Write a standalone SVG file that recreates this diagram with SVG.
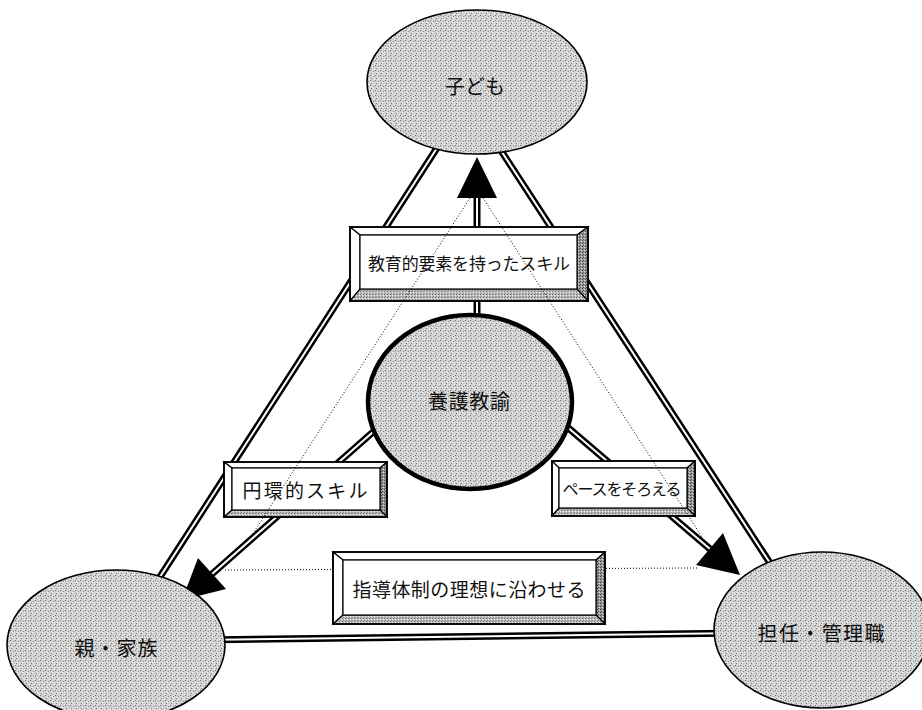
<svg xmlns="http://www.w3.org/2000/svg" width="922" height="710" viewBox="0 0 922 710">
  <defs>
    <pattern id="stip" width="5" height="5" patternUnits="userSpaceOnUse">
      <rect width="5" height="5" fill="#d2d2d2"/>
      <rect x="0" y="0" width="1" height="1" fill="#6e6e6e"/>
      <rect x="3" y="1" width="1" height="1" fill="#8c8c8c"/>
      <rect x="1" y="3" width="1" height="1" fill="#7a7a7a"/>
      <rect x="4" y="4" width="1" height="1" fill="#f4f4f4"/>
      <rect x="2" y="2" width="1" height="1" fill="#ffffff"/>
    </pattern>
    <pattern id="dark" width="3" height="3" patternUnits="userSpaceOnUse">
      <rect width="3" height="3" fill="#9a9a9a"/>
      <rect x="0" y="0" width="1" height="1" fill="#404040"/>
      <rect x="2" y="1" width="1" height="1" fill="#dcdcdc"/>
      <rect x="1" y="2" width="1" height="1" fill="#555"/>
    </pattern>
    <pattern id="light" width="3" height="3" patternUnits="userSpaceOnUse">
      <rect width="3" height="3" fill="#bdbdbd"/>
      <rect x="0" y="0" width="1" height="1" fill="#6a6a6a"/>
      <rect x="2" y="1" width="1" height="1" fill="#f0f0f0"/>
      <rect x="1" y="2" width="1" height="1" fill="#888"/>
    </pattern>
  </defs>
  <style>
    .dl-b { fill: none; stroke: #000; stroke-width: 7; }
    .dl-w { fill: none; stroke: #fff; stroke-width: 2; }
    .head { fill: #000; stroke: none; }
    .dot { fill: none; stroke: #000; stroke-width: 1; stroke-dasharray: 1 2; }
    .ell { fill: url(#stip); stroke: #000; stroke-width: 1.6; }
    .ell-c { fill: url(#stip); stroke: #000; stroke-width: 4.5; }
    .bv-l { fill: #fff; stroke: #000; stroke-width: 1.2; stroke-linejoin: miter; }
    .bv-d { fill: url(#dark); stroke: #000; stroke-width: 1.2; }
    .bv-g { fill: url(#light); stroke: #000; stroke-width: 1.2; }
    .face { fill: #fff; stroke: #000; stroke-width: 1.2; }
    .outer { fill: none; stroke: #000; stroke-width: 1.8; }
    text { font-family: "Noto Sans CJK JP", "Noto Sans", sans-serif; fill: #111; text-anchor: middle; dominant-baseline: central; }
  </style>
  <rect width="922" height="710" fill="#fff"/>

  <g id="connectors">
    <line class="dl-b" x1="468" y1="100" x2="116" y2="645"/>
    <line class="dl-w" x1="468" y1="100" x2="116" y2="645"/>
    <line class="dl-b" x1="468" y1="100" x2="815" y2="632"/>
    <line class="dl-w" x1="468" y1="100" x2="815" y2="632"/>
    <line class="dl-b" x1="116" y1="641" x2="822" y2="632"/>
    <line class="dl-w" x1="116" y1="641" x2="822" y2="632"/>
    <line class="dl-b" x1="477" y1="330" x2="477" y2="197"/>
    <line class="dl-w" x1="477" y1="330" x2="477" y2="197"/>
    <polygon class="head" points="477,157 457,198 497,198"/>
    <line class="dl-b" x1="407" y1="402" x2="212" y2="574"/>
    <line class="dl-w" x1="407" y1="402" x2="212" y2="574"/>
    <polygon class="head" points="182,600 226,589 198,558"/>
    <line class="dl-b" x1="538" y1="402" x2="710" y2="549"/>
    <line class="dl-w" x1="538" y1="402" x2="710" y2="549"/>
    <polygon class="head" points="740,575 696,565 723,533"/>
    <line class="dot" x1="225" y1="570" x2="697" y2="568"/>
  </g>

  <g id="node-child">
    <ellipse class="ell" cx="477" cy="82" rx="110" ry="72"/>
    <text x="475" y="85" font-size="20" textLength="60">子ども</text>
  </g>
  <g id="node-nurse">
    <ellipse class="ell-c" cx="470" cy="402" rx="102" ry="87"/>
    <text x="469" y="400" font-size="20" textLength="82">養護教諭</text>
  </g>
  <g id="node-parents">
    <ellipse class="ell" cx="116" cy="645" rx="109" ry="75"/>
    <text x="116" y="647" font-size="20" textLength="83">親・家族</text>
  </g>
  <g id="node-staff">
    <ellipse class="ell" cx="822" cy="630" rx="108" ry="78"/>
    <text x="821" y="632" font-size="20" textLength="127">担任・管理職</text>
  </g>

  <g id="box-edu">
    <polygon class="bv-l" points="350,227 588,227 577,235 360,235"/>
    <polygon class="bv-l" points="350,227 360,235 360,289 350,301"/>
    <polygon class="bv-d" points="588,227 588,301 577,289 577,235"/>
    <polygon class="bv-g" points="350,301 360,289 577,289 588,301"/>
    <rect class="face" x="360" y="235" width="217" height="54"/>
    <rect class="outer" x="350" y="227" width="238" height="74"/>
    <text x="469" y="262" font-size="17" textLength="202">教育的要素を持ったスキル</text>
  </g>
  <g id="box-circular">
    <polygon class="bv-l" points="224,462 387,462 380,468 232,468"/>
    <polygon class="bv-l" points="224,462 232,468 232,510 224,517"/>
    <polygon class="bv-d" points="387,462 387,517 380,510 380,468"/>
    <polygon class="bv-g" points="224,517 232,510 380,510 387,517"/>
    <rect class="face" x="232" y="468" width="148" height="42"/>
    <rect class="outer" x="224" y="462" width="163" height="55"/>
    <text x="305" y="489" font-size="19" textLength="125">円環的スキル</text>
  </g>
  <g id="box-pace">
    <polygon class="bv-l" points="552,461 695,461 687,468 559,468"/>
    <polygon class="bv-l" points="552,461 559,468 559,508 552,516"/>
    <polygon class="bv-d" points="695,461 695,516 687,508 687,468"/>
    <polygon class="bv-g" points="552,516 559,508 687,508 695,516"/>
    <rect class="face" x="559" y="468" width="128" height="40"/>
    <rect class="outer" x="552" y="461" width="143" height="55"/>
    <text x="622" y="488" font-size="16" textLength="119">ペースをそろえる</text>
  </g>
  <g id="box-ideal">
    <polygon class="bv-l" points="333,552 605,552 596,560 343,560"/>
    <polygon class="bv-l" points="333,552 343,560 343,615 333,624"/>
    <polygon class="bv-d" points="605,552 605,624 596,615 596,560"/>
    <polygon class="bv-g" points="333,624 343,615 596,615 605,624"/>
    <rect class="face" x="343" y="560" width="253" height="55"/>
    <rect class="outer" x="333" y="552" width="272" height="72"/>
    <text x="469" y="588" font-size="19" textLength="233">指導体制の理想に沿わせる</text>
  </g>

  <g id="guides">
    <line class="dot" x1="470" y1="198" x2="250" y2="538"/>
    <line class="dot" x1="483" y1="198" x2="702" y2="537"/>
  </g>
</svg>
